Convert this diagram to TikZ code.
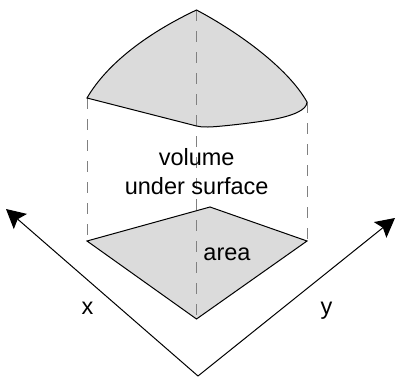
\documentclass[tikz,border=0pt]{standalone}
\usepackage{fontspec}
\setmainfont{Liberation Sans}
\usetikzlibrary{arrows.meta}
\definecolor{areagray}{gray}{0.86}
\definecolor{dashgray}{gray}{0.5}
\tikzset{
  solidline/.style={draw=black,line width=1pt},
  dropline/.style={draw=dashgray,line width=1pt,dash pattern=on 11pt off 10pt},
  axisline/.style={draw=black,line width=1pt,-{Stealth[length=19pt,width=20pt,inset=3.5pt]}},
  labeltext/.style={font=\fontsize{23.5}{29}\selectfont,text=black,inner sep=0pt,align=center}
}
\begin{document}
\begin{tikzpicture}[x=1pt,y=-1pt]
  \useasboundingbox (0,0) rectangle (396,380);
  % surface
  \coordinate (topback) at (196.5,10);
  \coordinate (topleft) at (87,98);
  \coordinate (topright) at (307,102);
  \coordinate (topfront) at (196.5,126);
  \fill[areagray] (topleft) .. controls (108,62) and (150,32) .. (topback)
    .. controls (238,32) and (288,68) .. (topright)
    .. controls (307,110) and (293,116) .. (270,120)
    .. controls (245,124) and (215,127) .. (208,127)
    .. controls (203,127) and (200,127) .. (topfront) -- cycle;
  % base
  \coordinate (baseback) at (210,207);
  \coordinate (baseleft) at (87,241);
  \coordinate (baseright) at (307,241);
  \coordinate (basefront) at (196.5,319);
  \fill[areagray] (baseleft) -- (baseback) -- (baseright) -- (basefront) -- cycle;
  % drop lines
  \draw[dropline] (topleft) -- (baseleft);
  \draw[dropline] (topback) -- (basefront);
  \draw[dropline] (topright) -- (baseright);
  % outlines
  \draw[solidline] (topleft) .. controls (108,62) and (150,32) .. (topback)
    .. controls (238,32) and (288,68) .. (topright)
    .. controls (307,110) and (293,116) .. (270,120)
    .. controls (245,124) and (215,127) .. (208,127)
    .. controls (203,127) and (200,127) .. (topfront) -- cycle;
  \draw[solidline] (baseleft) -- (baseback) -- (baseright) -- (basefront) -- cycle;
  % axes
  \coordinate (origin) at (198,376);
  \coordinate (xtip) at (6,209);
  \coordinate (ytip) at (395,218);
  \draw[axisline] (origin) -- (xtip);
  \draw[axisline] (origin) -- (ytip);
  % labels
  \node[labeltext] (volumelabel) at (196.7,172) {volume\\under surface};
  \node[labeltext,anchor=base] (arealabel) at (227,260) {area};
  \node[labeltext,anchor=base] (xlabel) at (87.5,314) {x};
  \node[labeltext,anchor=base] (ylabel) at (326.5,314) {y};
\end{tikzpicture}
\end{document}
